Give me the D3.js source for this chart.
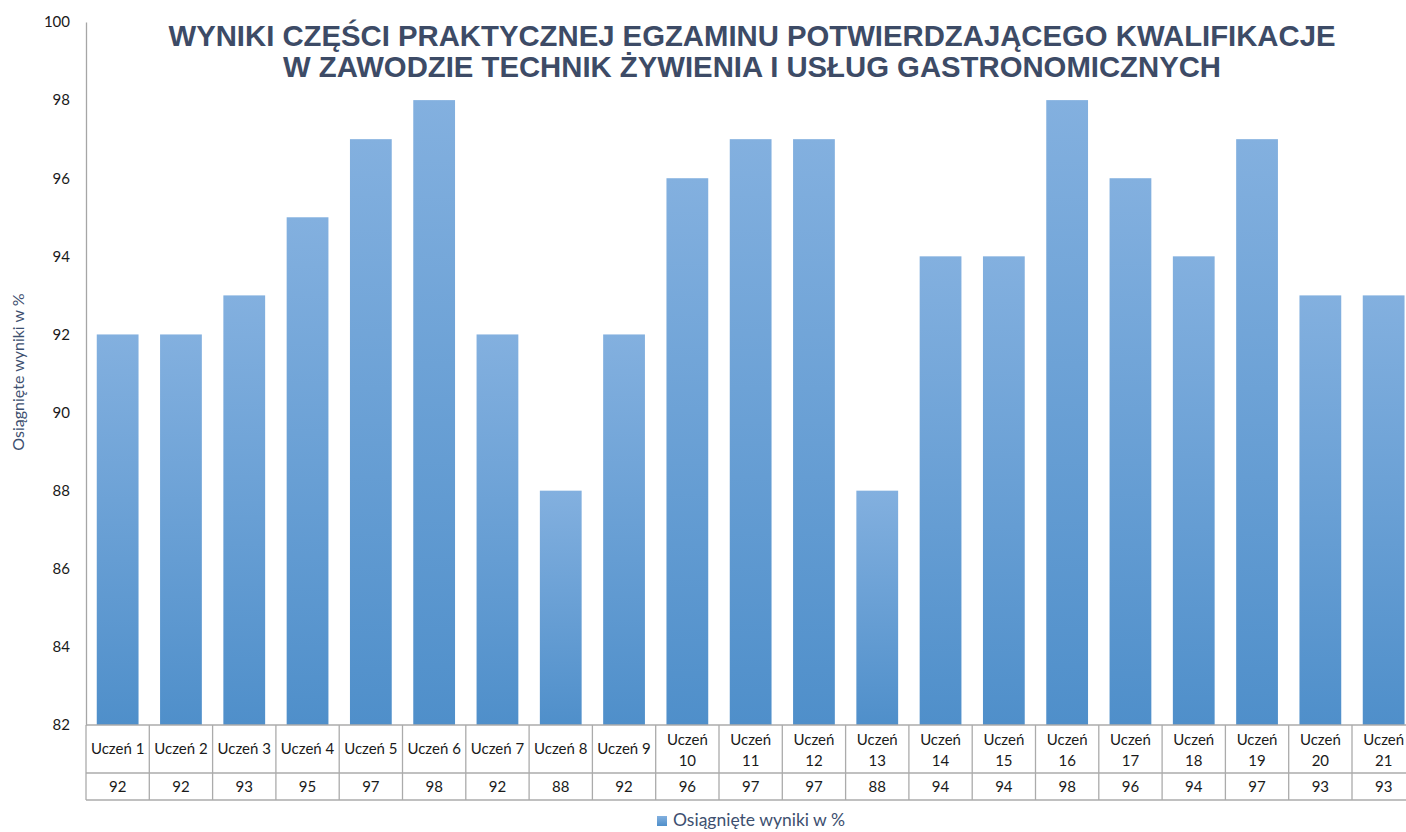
<!DOCTYPE html>
<html>
<head>
<meta charset="utf-8">
<script src="https://cdn.jsdelivr.net/npm/d3@7"></script>
<style>
  body { margin: 0; background: #fff; overflow: hidden; }
  svg text { font-family: Lato, "Noto Sans", sans-serif; }
</style>
</head>
<body>
<div id="container"></div>
<script>
const students = ["Uczeń 1","Uczeń 2","Uczeń 3","Uczeń 4","Uczeń 5","Uczeń 6","Uczeń 7","Uczeń 8","Uczeń 9","Uczeń 10","Uczeń 11","Uczeń 12","Uczeń 13","Uczeń 14","Uczeń 15","Uczeń 16","Uczeń 17","Uczeń 18","Uczeń 19","Uczeń 20","Uczeń 21"];
const scores = [92, 92, 93, 95, 97, 98, 92, 88, 92, 96, 97, 97, 88, 94, 94, 98, 96, 94, 97, 93, 93];
const yTicks = [82, 84, 86, 88, 90, 92, 94, 96, 98, 100];
const titleLines = ["WYNIKI CZĘŚCI PRAKTYCZNEJ EGZAMINU POTWIERDZAJĄCEGO KWALIFIKACJE", "W ZAWODZIE TECHNIK ŻYWIENIA I USŁUG GASTRONOMICZNYCH"];
const seriesName = "Osiągnięte wyniki w %";

const w = 1406, h = 832;
const plotLeft = 86, plotTop = 22, plotBottom = 725;
const cellW = 63.3;
const plotRight = plotLeft + cellW * students.length;

const svg = d3.select("#container").append("svg")
  .attr("width", w).attr("height", h);

const defs = svg.append("defs");
const grad = defs.append("linearGradient").attr("id", "barGrad")
  .attr("x1", 0).attr("y1", 0).attr("x2", 0).attr("y2", 1);
grad.append("stop").attr("offset", "0%").attr("stop-color", "#83b0df");
grad.append("stop").attr("offset", "100%").attr("stop-color", "#4f8fca");

const x = d3.scaleBand().domain(students).range([plotLeft, plotRight]).paddingInner(0.34).paddingOuter(0.17);
const xCell = d3.scaleBand().domain(students).range([plotLeft, plotRight]);
const y = d3.scaleLinear().domain([82, 100]).range([plotBottom, plotTop]);

// y axis
const yAxis = d3.axisLeft(y).tickValues(yTicks).tickSize(0).tickPadding(16);
const yg = svg.append("g").attr("transform", "translate(" + plotLeft + ",0)").call(yAxis);
yg.select(".domain").attr("stroke", "#a6a6a6").attr("stroke-width", 1.3);
yg.selectAll("text").attr("font-size", 15).attr("fill", "#1a1a1a");

// bars
svg.selectAll("rect.bar").data(scores).enter().append("rect")
  .attr("class", "bar")
  .attr("x", (d, i) => x(students[i]))
  .attr("width", x.bandwidth())
  .attr("y", d => y(d))
  .attr("height", d => y(82) - y(d))
  .attr("fill", "url(#barGrad)");

// data table
const rowTop = plotBottom, rowMid = 773, rowBot = 800;
const grid = svg.append("g").attr("stroke", "#ababab").attr("stroke-width", 1.3);
[rowTop, rowMid, rowBot].forEach(yy => grid.append("line")
  .attr("x1", plotLeft).attr("x2", plotRight).attr("y1", yy).attr("y2", yy));
students.forEach((s, i) => grid.append("line")
  .attr("x1", xCell(s)).attr("x2", xCell(s)).attr("y1", rowTop).attr("y2", rowBot));
grid.append("line").attr("x1", plotRight).attr("x2", plotRight).attr("y1", rowTop).attr("y2", rowBot);

const labels = svg.append("g").attr("font-size", 15).attr("fill", "#1a1a1a").attr("text-anchor", "middle");
students.forEach((s, i) => {
  const cx = xCell(s) + cellW / 2;
  const parts = s.split(" ");
  const num = +parts[1];
  if (num < 10) {
    labels.append("text").attr("x", cx).attr("y", 754).text(s);
  } else {
    labels.append("text").attr("x", cx).attr("y", 745).text(parts[0]);
    labels.append("text").attr("x", cx).attr("y", 766).text(parts[1]);
  }
  labels.append("text").attr("x", cx).attr("y", 792).text(scores[i]);
});

// y axis title
svg.append("text")
  .attr("transform", "translate(24,372) rotate(-90)")
  .attr("text-anchor", "middle")
  .attr("font-size", 16)
  .attr("fill", "#3d4f6f")
  .text(seriesName);

// title
const title = svg.append("g").attr("text-anchor", "middle").attr("fill", "#3d4b66")
  .attr("font-weight", "bold").attr("font-size", 29.3);
titleLines.forEach((t, i) => title.append("text")
  .attr("x", 752).attr("y", 46 + i * 31)
  .style("font-family", "'Liberation Sans', Arial, sans-serif")
  .text(t));

// legend
const legend = svg.append("g").attr("transform", "translate(657,814)");
legend.append("rect").attr("width", 10).attr("height", 10).attr("y", 2).attr("fill", "url(#barGrad)");
legend.append("text").attr("x", 16).attr("y", 12).attr("font-size", 17.5).attr("fill", "#3d4f6f").text(seriesName);
</script>
</body>
</html>
